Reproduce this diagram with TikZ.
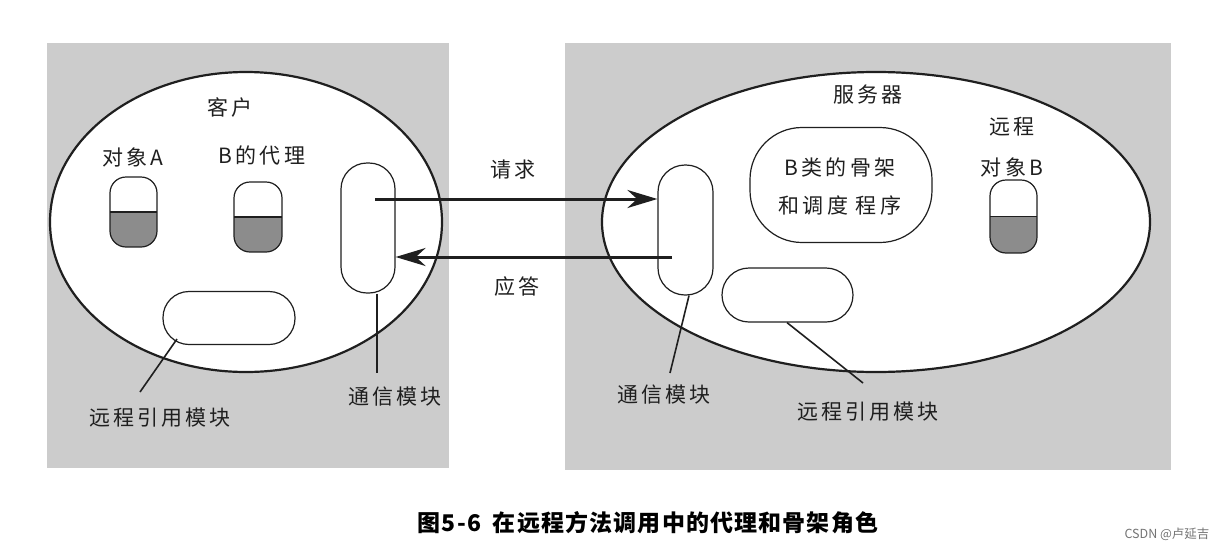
\documentclass[tikz,border=0pt]{standalone}
\usepackage{fontspec}
\setmainfont{Noto Sans CJK SC}
\newfontfamily\lblfont[LetterSpace=15]{Noto Sans CJK SC}
\newfontfamily\capfont[LetterSpace=5]{Noto Sans CJK SC}
\usetikzlibrary{arrows.meta,shapes.geometric}
\definecolor{panelgray}{gray}{0.80}
\definecolor{capgray}{gray}{0.55}
\definecolor{inkgray}{gray}{0.12}
\begin{document}
\begin{tikzpicture}[x=1pt,y=-1pt,
  panel/.style={fill=panelgray,draw=none},
  world/.style={ellipse,draw=inkgray,line width=2.2pt,fill=white,inner sep=0pt},
  module/.style={rectangle,draw=inkgray,line width=1.2pt,fill=white,inner sep=0pt},
  halfcap/.style={module,path picture={
      \fill[capgray,sharp corners] (path picture bounding box.west) rectangle (path picture bounding box.south east);
      \draw[inkgray,line width=1.2pt,sharp corners] (path picture bounding box.west) -- (path picture bounding box.east);}},
  lbl/.style={font=\lblfont\fontsize{21}{25}\selectfont,text=inkgray,inner sep=0pt},
  pointer/.style={draw=inkgray,line width=1.6pt},
  msg/.style={draw=inkgray,line width=3pt,-{Stealth[length=30pt,width=18pt]}},
]
\useasboundingbox (0,0) rectangle (1224,552);
\fill[white] (0,0) rectangle (1224,552);
% panels
\path[panel] (47,43) rectangle (449,468);
\path[panel] (565,43) rectangle (1171,470);
% worlds
\node[world,minimum width=392pt,minimum height=300pt] (cli) at (246,222) {};
\node[world,minimum width=548pt,minimum height=300pt] (srv) at (876,222) {};
% client contents
\node[lbl] (tcli) at (230,107) {客户};
\node[lbl] (tobjA) at (133,157) {对象A};
\node[lbl] (tprox) at (262,155) {B的代理};
\node[halfcap,minimum width=47pt,minimum height=70pt,rounded corners=16pt] (capA) at (133.5,212) {};
\node[halfcap,minimum width=48pt,minimum height=70pt,rounded corners=16pt] (capB) at (258,217) {};
\node[module,minimum width=54pt,minimum height=130pt,rounded corners=26pt] (commL) at (368,228) {};
\node[module,minimum width=132pt,minimum height=53pt,rounded corners=26pt] (refL) at (229,318) {};
% server contents
\node[lbl] (tsrv) at (868,95) {服务器};
\node[module,minimum width=182pt,minimum height=115pt,rounded corners=52pt] (skel) at (841,185) {};
\node[lbl] (tskel1) at (840,167) {B类的骨架};
\node[lbl] (tskel2) at (840,205) {和调度 程序};
\node[lbl] (trem1) at (1012,127) {远程};
\node[lbl] (trem2) at (1012,167) {对象B};
\node[halfcap,minimum width=47pt,minimum height=73pt,rounded corners=16pt] (capRB) at (1013.5,216.5) {};
\node[module,minimum width=55pt,minimum height=130pt,rounded corners=27pt] (commR) at (685.5,230) {};
\node[module,minimum width=131pt,minimum height=54pt,rounded corners=27pt] (refR) at (787.5,295) {};
% messages
\coordinate (reqS) at (375,199);
\coordinate (resS) at (672,257);
\draw[msg] (reqS) -- (reqS -| commR.west);
\draw[msg] (resS) -- (resS -| commL.east);
\node[lbl] (treq) at (513,170) {请求};
\node[lbl] (tres) at (517,287) {应答};
% pointer labels
\node[lbl] (lrefL) at (160,418) {远程引用模块};
\node[lbl] (lcomL) at (395,397) {通信模块};
\node[lbl] (lcomR) at (664,395) {通信模块};
\node[lbl] (lrefR) at (868,412) {远程引用模块};
\coordinate (prefL) at (140,392);
\coordinate (pcomL) at (377,373);
\coordinate (pcomR) at (670,373);
\coordinate (prefR) at (863,383);
\draw[pointer] ([xshift=-52pt,yshift=-21pt]refL.center) -- (prefL);
\draw[pointer] ([xshift=9pt]commL.south) -- (pcomL);
\draw[pointer] ([xshift=3.5pt]commR.south) -- (pcomR);
\draw[pointer] ([xshift=-0.5pt]refR.south) -- (prefR);
% caption
\node[font=\capfont\bfseries\fontsize{23}{27}\selectfont,inner sep=0pt] (cap) at (648,523) {图5-6\hspace{12pt}在远程方法调用中的代理和骨架角色};
\node[font=\fontsize{12.5}{15}\selectfont,text=black!55,inner sep=0pt] (wm) at (1167,534) {CSDN @卢延吉};
\end{tikzpicture}
\end{document}
